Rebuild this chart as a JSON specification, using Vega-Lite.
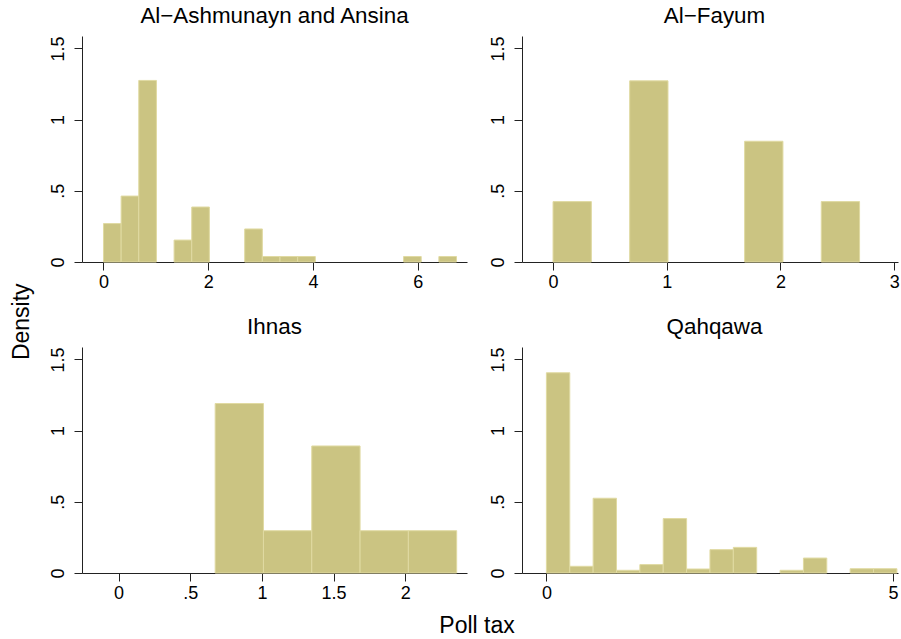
{
  "$schema": "https://vega.github.io/schema/vega-lite/v6.json",
  "padding": {"left": 10, "top": 5, "right": 0, "bottom": 0},
  "background": "white",
  "datasets": {
    "p1": [
      {"start": 0.0, "end": 0.337, "density": 0.270},
      {"start": 0.337, "end": 0.674, "density": 0.463},
      {"start": 0.674, "end": 1.011, "density": 1.275},
      {"start": 1.348, "end": 1.685, "density": 0.154},
      {"start": 1.685, "end": 2.022, "density": 0.386},
      {"start": 2.696, "end": 3.033, "density": 0.232},
      {"start": 3.033, "end": 3.370, "density": 0.0385},
      {"start": 3.370, "end": 3.707, "density": 0.0385},
      {"start": 3.707, "end": 4.044, "density": 0.0385},
      {"start": 5.729, "end": 6.066, "density": 0.0385},
      {"start": 6.403, "end": 6.740, "density": 0.0385}
    ],
    "p2": [
      {"start": 0.0, "end": 0.337, "density": 0.424},
      {"start": 0.674, "end": 1.011, "density": 1.272},
      {"start": 1.685, "end": 2.022, "density": 0.848},
      {"start": 2.359, "end": 2.696, "density": 0.424}
    ],
    "p3": [
      {"start": 0.674, "end": 1.011, "density": 1.190},
      {"start": 1.011, "end": 1.348, "density": 0.297},
      {"start": 1.348, "end": 1.685, "density": 0.892},
      {"start": 1.685, "end": 2.022, "density": 0.297},
      {"start": 2.022, "end": 2.359, "density": 0.297}
    ],
    "p4": [
      {"start": 0.0, "end": 0.337, "density": 1.406},
      {"start": 0.337, "end": 0.674, "density": 0.047},
      {"start": 0.674, "end": 1.011, "density": 0.525},
      {"start": 1.011, "end": 1.348, "density": 0.019},
      {"start": 1.348, "end": 1.685, "density": 0.059},
      {"start": 1.685, "end": 2.022, "density": 0.382},
      {"start": 2.022, "end": 2.359, "density": 0.028},
      {"start": 2.359, "end": 2.696, "density": 0.164},
      {"start": 2.696, "end": 3.033, "density": 0.180},
      {"start": 3.370, "end": 3.707, "density": 0.019},
      {"start": 3.707, "end": 4.044, "density": 0.105},
      {"start": 4.381, "end": 4.718, "density": 0.030},
      {"start": 4.718, "end": 5.055, "density": 0.030}
    ]
  },
  "title": {"text": "Density", "orient": "left", "anchor": "middle", "angle": -90, "fontSize": 23, "fontWeight": "normal", "color": "#000", "offset": -3, "baseline": "alphabetic"},
  "vconcat": [
    {
      "title": {"text": "Poll tax", "orient": "bottom", "anchor": "middle", "fontSize": 23, "fontWeight": "normal", "color": "#000", "offset": 31, "dx": 3, "baseline": "alphabetic"},
      "columns": 2,
      "spacing": {"row": 25, "column": 22},
      "concat": [
        {
          "width": 385, "height": 226,
          "title": {"text": "Al−Ashmunayn and Ansina"},
          "data": {"name": "p1"},
          "mark": {"type": "rect", "fill": "#cbc482", "stroke": "#e0daa2", "strokeWidth": 1},
          "encoding": {
            "x": {"field": "start", "type": "quantitative", "scale": {"domain": [-0.41, 6.94], "nice": false, "zero": false}, "axis": {"values": [0, 2, 4, 6]}},
            "x2": {"field": "end"},
            "y": {"field": "density", "type": "quantitative", "scale": {"domain": [0, 1.587], "nice": false}, "axis": {"values": [0, 0.5, 1, 1.5]}},
            "y2": {"datum": 0}
          }
        },
        {
          "width": 376, "height": 226,
          "title": {"text": "Al−Fayum", "dx": 4.5},
          "data": {"name": "p2"},
          "mark": {"type": "rect", "fill": "#cbc482", "stroke": "#e0daa2", "strokeWidth": 1},
          "encoding": {
            "x": {"field": "start", "type": "quantitative", "scale": {"domain": [-0.273, 3.034], "nice": false, "zero": false}, "axis": {"values": [0, 1, 2, 3]}},
            "x2": {"field": "end"},
            "y": {"field": "density", "type": "quantitative", "scale": {"domain": [0, 1.587], "nice": false}, "axis": {"values": [0, 0.5, 1, 1.5]}},
            "y2": {"datum": 0}
          }
        },
        {
          "width": 385, "height": 226,
          "title": {"text": "Ihnas"},
          "data": {"name": "p3"},
          "mark": {"type": "rect", "fill": "#cbc482", "stroke": "#e0daa2", "strokeWidth": 1},
          "encoding": {
            "x": {"field": "start", "type": "quantitative", "scale": {"domain": [-0.255, 2.431], "nice": false, "zero": false}, "axis": {"values": [0, 0.5, 1, 1.5, 2]}},
            "x2": {"field": "end"},
            "y": {"field": "density", "type": "quantitative", "scale": {"domain": [0, 1.587], "nice": false}, "axis": {"values": [0, 0.5, 1, 1.5]}},
            "y2": {"datum": 0}
          }
        },
        {
          "width": 376, "height": 226,
          "title": {"text": "Qahqawa", "dx": 4.5},
          "data": {"name": "p4"},
          "mark": {"type": "rect", "fill": "#cbc482", "stroke": "#e0daa2", "strokeWidth": 1},
          "encoding": {
            "x": {"field": "start", "type": "quantitative", "scale": {"domain": [-0.352, 5.071], "nice": false, "zero": false}, "axis": {"values": [0, 5]}},
            "x2": {"field": "end"},
            "y": {"field": "density", "type": "quantitative", "scale": {"domain": [0, 1.587], "nice": false}, "axis": {"values": [0, 0.5, 1, 1.5]}},
            "y2": {"datum": 0}
          }
        }
      ]
    }
  ],
  "config": {
    "font": "Liberation Sans",
    "view": {"stroke": null},
    "axis": {
      "title": null, "grid": false,
      "domainColor": "#222", "tickColor": "#222", "labelColor": "#000",
      "domainWidth": 1, "tickWidth": 1, "tickSize": 8,
      "labelFontSize": 18, "labelFlush": false, "labelOverlap": false, "labelPadding": 3,
      "labelExpr": "replace(toString(datum.value), '0.', '.')"
    },
    "axisY": {"labelAngle": -90, "labelPadding": 7},
    "title": {"fontSize": 22.4, "fontWeight": "normal", "color": "#000", "offset": 8, "baseline": "alphabetic"}
  }
}
